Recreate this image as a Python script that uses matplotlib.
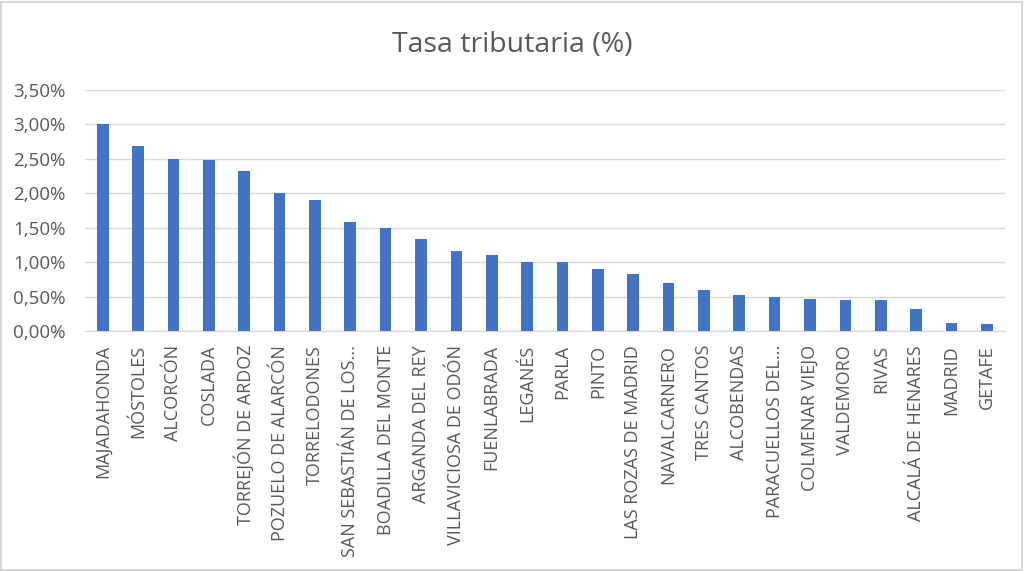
import numpy as np
import matplotlib.pyplot as plt
from matplotlib.ticker import FuncFormatter

plt.rcParams['font.family'] = ['Open Sans', 'DejaVu Sans']

municipios = ['MAJADAHONDA', 'MÓSTOLES', 'ALCORCÓN', 'COSLADA', 'TORREJÓN DE ARDOZ',
              'POZUELO DE ALARCÓN', 'TORRELODONES', 'SAN SEBASTIÁN DE LOS...',
              'BOADILLA DEL MONTE', 'ARGANDA DEL REY', 'VILLAVICIOSA DE ODÓN',
              'FUENLABRADA', 'LEGANÉS', 'PARLA', 'PINTO', 'LAS ROZAS DE MADRID',
              'NAVALCARNERO', 'TRES CANTOS', 'ALCOBENDAS', 'PARACUELLOS DEL...',
              'COLMENAR VIEJO', 'VALDEMORO', 'RIVAS', 'ALCALÁ DE HENARES',
              'MADRID', 'GETAFE']
tasa = [3.00, 2.68, 2.50, 2.48, 2.32, 2.00, 1.90, 1.58, 1.50, 1.34, 1.16, 1.10, 1.00,
        1.00, 0.90, 0.83, 0.70, 0.60, 0.52, 0.50, 0.47, 0.45, 0.45, 0.32, 0.12, 0.10]

gris = '#595959'
fig = plt.figure(figsize=(10.24, 5.71), dpi=100)
ax = fig.add_axes([0.083, 0.4203, 0.898, 0.4221])

x = np.arange(len(municipios))
ax.bar(x, np.array(tasa) / 100, width=0.33, color='#4472C4', zorder=3)

ax.set_ylim(0, 0.035)
ax.set_xlim(-0.5, len(municipios) - 0.5)
ax.set_yticks(np.arange(0, 0.0351, 0.005))
ax.yaxis.set_major_formatter(FuncFormatter(lambda v, p: f'{v*100:.2f}%'.replace('.', ',')))
ax.grid(axis='y', color='#d9d9d9', linewidth=1, zorder=0)
ax.set_xticks(x)
ax.set_xticklabels(municipios, rotation=90, fontsize=13, color=gris)
ax.tick_params(axis='y', labelsize=13.5, colors=gris, length=0, pad=14)
ax.tick_params(axis='x', length=0, pad=10)
for s in ['top', 'right', 'left']:
    ax.spines[s].set_visible(False)
ax.spines['bottom'].set_color('#d9d9d9')

fig.text(0.5, 0.922, 'Tasa tributaria (%)', ha='center', va='center', fontsize=20.5, color=gris)
fig.patches.append(plt.Rectangle((0.001, 0.002), 0.997, 0.995, transform=fig.transFigure,
                                 fill=False, edgecolor='#d9d9d9', linewidth=1.5))

fig.savefig('out.png', dpi=100)
